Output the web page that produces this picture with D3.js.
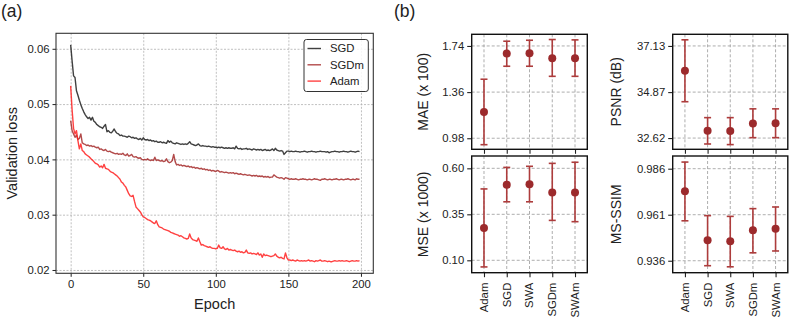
<!DOCTYPE html>
<html>
<head>
<meta charset="utf-8">
<script src="https://cdn.jsdelivr.net/npm/d3@7"></script>
<style>
  body { margin: 0; background: #fff; }
  svg { font-family: "Liberation Sans", Arial, sans-serif; }
</style>
</head>
<body>
<svg id="fig" width="789" height="321"></svg>
<script>
// panel (a): validation loss per epoch
const sgdLoss = [
  0.0607, 0.0578, 0.0551, 0.0548, 0.0524, 0.0516, 0.0507, 0.0499, 0.0492, 0.0486,
  0.0481, 0.0477, 0.0474, 0.0476, 0.0471, 0.0476, 0.0469, 0.0467, 0.0463, 0.0461,
  0.0459, 0.0458, 0.0456, 0.0460, 0.0463, 0.0450, 0.0452, 0.0449, 0.0448, 0.0451,
  0.0455, 0.0450, 0.0447, 0.0446, 0.0443, 0.0444, 0.0442, 0.0442, 0.0441, 0.0440,
  0.0442, 0.0441, 0.0439, 0.0440, 0.0438, 0.0439, 0.0437, 0.0436, 0.0438, 0.0435,
  0.0439, 0.0436, 0.0435, 0.0436, 0.0434, 0.0435, 0.0433, 0.0434, 0.0432, 0.0433,
  0.0431, 0.0431, 0.0432, 0.0430, 0.0431, 0.0430, 0.0429, 0.0434, 0.0431, 0.0433,
  0.0430, 0.0429, 0.0428, 0.0430, 0.0429, 0.0428, 0.0427, 0.0428, 0.0427, 0.0428,
  0.0427, 0.0429, 0.0432, 0.0428, 0.0427, 0.0426, 0.0425, 0.0426, 0.0428, 0.0425,
  0.0424, 0.0425, 0.0424, 0.0424, 0.0423, 0.0424, 0.0423, 0.0422, 0.0423, 0.0422,
  0.0422, 0.0421, 0.0422, 0.0421, 0.0422, 0.0421, 0.0420, 0.0421, 0.0420, 0.0421,
  0.0420, 0.0420, 0.0421, 0.0419, 0.0424, 0.0420, 0.0419, 0.0420, 0.0418, 0.0419,
  0.0419, 0.0420, 0.0418, 0.0419, 0.0418, 0.0417, 0.0419, 0.0418, 0.0417, 0.0418,
  0.0417, 0.0418, 0.0416, 0.0417, 0.0418, 0.0416, 0.0417, 0.0416, 0.0417, 0.0419,
  0.0416, 0.0420, 0.0417, 0.0416, 0.0415, 0.0416, 0.0415, 0.0409, 0.0412, 0.0415,
  0.0415, 0.0414, 0.0415, 0.0414, 0.0414, 0.0415, 0.0414, 0.0414, 0.0413, 0.0414,
  0.0414, 0.0415, 0.0414, 0.0413, 0.0414, 0.0414, 0.0415, 0.0414, 0.0414, 0.0413,
  0.0414, 0.0414, 0.0415, 0.0414, 0.0414, 0.0414, 0.0413, 0.0414, 0.0412, 0.0413,
  0.0414, 0.0414, 0.0415, 0.0414, 0.0414, 0.0413, 0.0414, 0.0414, 0.0415, 0.0414,
  0.0414, 0.0413, 0.0414, 0.0415, 0.0414, 0.0414, 0.0413, 0.0414, 0.0415, 0.0414
];
const sgdmLoss = [
  0.0470, 0.0452, 0.0446, 0.0440, 0.0444, 0.0436, 0.0438, 0.0446, 0.0430, 0.0428,
  0.0427, 0.0425, 0.0426, 0.0424, 0.0425, 0.0423, 0.0424, 0.0422, 0.0421, 0.0422,
  0.0418, 0.0419, 0.0417, 0.0416, 0.0418, 0.0415, 0.0414, 0.0415, 0.0413, 0.0412,
  0.0411, 0.0410, 0.0411, 0.0409, 0.0410, 0.0409, 0.0411, 0.0408, 0.0407, 0.0410,
  0.0406, 0.0407, 0.0409, 0.0405, 0.0404, 0.0405, 0.0403, 0.0402, 0.0403, 0.0400,
  0.0399, 0.0400, 0.0399, 0.0401, 0.0399, 0.0398, 0.0399, 0.0398, 0.0404, 0.0398,
  0.0399, 0.0398, 0.0397, 0.0398, 0.0396, 0.0397, 0.0401, 0.0396, 0.0394, 0.0395,
  0.0398, 0.0409, 0.0396, 0.0390, 0.0391, 0.0389, 0.0390, 0.0388, 0.0389, 0.0388,
  0.0387, 0.0388, 0.0386, 0.0387, 0.0385, 0.0386, 0.0384, 0.0385, 0.0384, 0.0383,
  0.0384, 0.0382, 0.0383, 0.0381, 0.0382, 0.0380, 0.0381, 0.0379, 0.0380, 0.0379,
  0.0378, 0.0380, 0.0379, 0.0377, 0.0378, 0.0377, 0.0376, 0.0377, 0.0376, 0.0375,
  0.0376, 0.0375, 0.0376, 0.0374, 0.0375, 0.0374, 0.0373, 0.0374, 0.0373, 0.0372,
  0.0373, 0.0372, 0.0371, 0.0372, 0.0371, 0.0370, 0.0371, 0.0370, 0.0371, 0.0369,
  0.0370, 0.0369, 0.0370, 0.0368, 0.0369, 0.0368, 0.0369, 0.0367, 0.0368, 0.0368,
  0.0372, 0.0370, 0.0368, 0.0367, 0.0366, 0.0367, 0.0366, 0.0364, 0.0367, 0.0366,
  0.0365, 0.0364, 0.0365, 0.0364, 0.0364, 0.0365, 0.0364, 0.0363, 0.0364, 0.0364,
  0.0365, 0.0364, 0.0364, 0.0363, 0.0364, 0.0364, 0.0363, 0.0364, 0.0365, 0.0364,
  0.0364, 0.0363, 0.0362, 0.0364, 0.0364, 0.0365, 0.0364, 0.0363, 0.0364, 0.0364,
  0.0363, 0.0364, 0.0364, 0.0365, 0.0364, 0.0363, 0.0364, 0.0364, 0.0363, 0.0364,
  0.0364, 0.0365, 0.0364, 0.0363, 0.0364, 0.0364, 0.0363, 0.0365, 0.0364, 0.0364
];
const adamLoss = [
  0.0533, 0.0489, 0.0456, 0.0446, 0.0452, 0.0434, 0.0419, 0.0428, 0.0416, 0.0414,
  0.0410, 0.0408, 0.0406, 0.0404, 0.0401, 0.0399, 0.0396, 0.0393, 0.0392, 0.0390,
  0.0386, 0.0388, 0.0385, 0.0391, 0.0384, 0.0383, 0.0382, 0.0379, 0.0377, 0.0376,
  0.0374, 0.0372, 0.0370, 0.0367, 0.0364, 0.0359, 0.0357, 0.0353, 0.0350, 0.0344,
  0.0338, 0.0334, 0.0333, 0.0335, 0.0324, 0.0314, 0.0311, 0.0308, 0.0305, 0.0300,
  0.0296, 0.0295, 0.0293, 0.0291, 0.0290, 0.0289, 0.0287, 0.0285, 0.0284, 0.0289,
  0.0282, 0.0278, 0.0277, 0.0276, 0.0274, 0.0273, 0.0272, 0.0271, 0.0270, 0.0268,
  0.0267, 0.0266, 0.0265, 0.0264, 0.0263, 0.0261, 0.0262, 0.0260, 0.0258, 0.0257,
  0.0256, 0.0257, 0.0265, 0.0258, 0.0255, 0.0254, 0.0253, 0.0252, 0.0258, 0.0251,
  0.0245, 0.0246, 0.0244, 0.0243, 0.0242, 0.0241, 0.0242, 0.0240, 0.0239, 0.0239,
  0.0238, 0.0239, 0.0245, 0.0240, 0.0239, 0.0242, 0.0238, 0.0237, 0.0239, 0.0236,
  0.0237, 0.0236, 0.0235, 0.0236, 0.0234, 0.0233, 0.0234, 0.0232, 0.0233, 0.0231,
  0.0232, 0.0236, 0.0231, 0.0230, 0.0231, 0.0229, 0.0230, 0.0229, 0.0228, 0.0231,
  0.0227, 0.0229, 0.0223, 0.0229, 0.0226, 0.0227, 0.0226, 0.0225, 0.0224, 0.0225,
  0.0226, 0.0229, 0.0225, 0.0223, 0.0222, 0.0223, 0.0221, 0.0220, 0.0231, 0.0222,
  0.0218, 0.0218, 0.0217, 0.0218, 0.0217, 0.0216, 0.0218, 0.0217, 0.0216, 0.0217,
  0.0216, 0.0217, 0.0216, 0.0217, 0.0218, 0.0216, 0.0217, 0.0216, 0.0215, 0.0217,
  0.0216, 0.0217, 0.0218, 0.0216, 0.0216, 0.0217, 0.0216, 0.0215, 0.0216, 0.0215,
  0.0215, 0.0216, 0.0217, 0.0216, 0.0216, 0.0217, 0.0216, 0.0217, 0.0216, 0.0216,
  0.0217, 0.0216, 0.0215, 0.0216, 0.0217, 0.0216, 0.0216, 0.0217, 0.0216, 0.0217
];
const lossTicksX = [0, 50, 100, 150, 200];
const lossTicksY = [0.02, 0.03, 0.04, 0.05, 0.06];

// panel (b): metrics per method, mean with lower / upper ends of error bar
const methods = ["Adam", "SGD", "SWA", "SGDm", "SWAm"];
const maeMean = [1.196, 1.677, 1.680, 1.639, 1.639];
const maeLow = [0.927, 1.573, 1.573, 1.490, 1.490];
const maeHigh = [1.466, 1.779, 1.787, 1.793, 1.790];
const mseMean = [0.276, 0.511, 0.513, 0.468, 0.468];
const mseLow = [0.064, 0.418, 0.418, 0.317, 0.310];
const mseHigh = [0.488, 0.605, 0.611, 0.627, 0.633];
const psnrMean = [35.92, 32.98, 32.96, 33.33, 33.34];
const psnrLow = [34.40, 32.33, 32.30, 32.64, 32.64];
const psnrHigh = [37.43, 33.62, 33.62, 34.05, 34.05];
const ssimMean = [0.9737, 0.9471, 0.9466, 0.9525, 0.9534];
const ssimLow = [0.9577, 0.9333, 0.9327, 0.9403, 0.9413];
const ssimHigh = [0.9896, 0.9605, 0.9601, 0.9643, 0.9652];
const maeTicks = ["0.98", "1.36", "1.74"];
const mseTicks = ["0.10", "0.35", "0.60"];
const psnrTicks = ["32.62", "34.87", "37.13"];
const ssimTicks = ["0.936", "0.961", "0.986"];

const svg = d3.select("#fig");
const gridColor = "#b0b0b0";
const barColor = "#ad3c3c";
const dotColor = "#9c2a2c";

// ---------- panel (a) ----------
const lossFrame = { left: 56, right: 373.3, top: 33.3, bottom: 273.3 };
const xLoss = d3.scaleLinear().domain([-10.1, 208.5]).range([lossFrame.left, lossFrame.right]);
const yLoss = d3.scaleLinear().domain([0.0194, 0.0628]).range([lossFrame.bottom, lossFrame.top]);

const gA = svg.append("g");

gA.append("g")
  .attr("transform", "translate(0," + lossFrame.bottom + ")")
  .call(d3.axisBottom(xLoss).tickValues(lossTicksX).tickSize(-(lossFrame.bottom - lossFrame.top)).tickFormat(""))
  .call((g) => g.select(".domain").remove())
  .call((g) => g.selectAll("line").attr("stroke", gridColor).attr("stroke-width", 0.8).attr("stroke-dasharray", "2,1.5"));

gA.append("g")
  .attr("transform", "translate(" + lossFrame.left + ",0)")
  .call(d3.axisLeft(yLoss).tickValues(lossTicksY).tickSize(-(lossFrame.right - lossFrame.left)).tickFormat(""))
  .call((g) => g.select(".domain").remove())
  .call((g) => g.selectAll("line").attr("stroke", gridColor).attr("stroke-width", 0.8).attr("stroke-dasharray", "2,1.5"));

const lossSeries = [
  { name: "SGD", values: sgdLoss, color: "#2b2b2b", opacity: 0.9 },
  { name: "SGDm", values: sgdmLoss, color: "#a52a2a", opacity: 0.85 },
  { name: "Adam", values: adamLoss, color: "#ff2020", opacity: 0.85 },
];

const line = d3.line()
  .x((d, i) => xLoss(i))
  .y((d) => yLoss(d));

gA.selectAll("path.loss")
  .data(lossSeries)
  .enter()
  .append("path")
  .attr("class", "loss")
  .attr("fill", "none")
  .attr("stroke", (d) => d.color)
  .attr("stroke-opacity", (d) => d.opacity)
  .attr("stroke-width", 1.4)
  .attr("stroke-linejoin", "round")
  .attr("d", (d) => line(d.values));

const xAxisA = gA.append("g")
  .attr("transform", "translate(0," + lossFrame.bottom + ")")
  .call(d3.axisBottom(xLoss).tickValues(lossTicksX).tickSize(3.5).tickPadding(3).tickFormat(d3.format("d")));
xAxisA.select(".domain").remove();
xAxisA.selectAll("text").attr("font-size", 11.3).attr("fill", "#222");
xAxisA.selectAll("line").attr("stroke", "#222");

const yAxisA = gA.append("g")
  .attr("transform", "translate(" + lossFrame.left + ",0)")
  .call(d3.axisLeft(yLoss).tickValues(lossTicksY).tickSize(3.5).tickPadding(3).tickFormat(d3.format(".2f")));
yAxisA.select(".domain").remove();
yAxisA.selectAll("text").attr("font-size", 11.3).attr("fill", "#222");
yAxisA.selectAll("line").attr("stroke", "#222");

gA.append("rect")
  .attr("x", lossFrame.left)
  .attr("y", lossFrame.top)
  .attr("width", lossFrame.right - lossFrame.left)
  .attr("height", lossFrame.bottom - lossFrame.top)
  .attr("fill", "none")
  .attr("stroke", "#333")
  .attr("stroke-width", 1.1);

gA.append("text")
  .attr("x", (lossFrame.left + lossFrame.right) / 2)
  .attr("y", 309)
  .attr("text-anchor", "middle")
  .attr("font-size", 14.5)
  .attr("fill", "#222")
  .text("Epoch");

gA.append("text")
  .attr("transform", "translate(17," + (lossFrame.top + lossFrame.bottom) / 2 + ") rotate(-90)")
  .attr("text-anchor", "middle")
  .attr("font-size", 14.5)
  .attr("fill", "#222")
  .text("Validation loss");

// legend
const legend = gA.append("g").attr("transform", "translate(304,39.5)");
legend.append("rect")
  .attr("width", 64.3)
  .attr("height", 52)
  .attr("rx", 2.5)
  .attr("fill", "#fff")
  .attr("fill-opacity", 0.85)
  .attr("stroke", "#333")
  .attr("stroke-width", 1);

const legendItem = legend.selectAll("g.item")
  .data(lossSeries)
  .enter()
  .append("g")
  .attr("class", "item")
  .attr("transform", (d, i) => "translate(0," + (9 + i * 16.3) + ")");

legendItem.append("line")
  .attr("x1", 3.5)
  .attr("x2", 17)
  .attr("stroke", (d) => d.color)
  .attr("stroke-opacity", (d) => d.opacity)
  .attr("stroke-width", 1.4);

legendItem.append("text")
  .attr("x", 26)
  .attr("dy", "0.35em")
  .attr("font-size", 11.3)
  .attr("fill", "#222")
  .text((d) => d.name);

svg.append("text")
  .attr("x", 1)
  .attr("y", 16.5)
  .attr("font-size", 17.5)
  .attr("fill", "#222")
  .text("(a)");

// ---------- panel (b) ----------
svg.append("text")
  .attr("x", 394)
  .attr("y", 16.5)
  .attr("font-size", 17.5)
  .attr("fill", "#222")
  .text("(b)");

const panels = [
  { label: "MAE (x 100)", mean: maeMean, low: maeLow, high: maeHigh, ticks: maeTicks,
    domain: [0.889, 1.836], left: 471.7, right: 587.3, top: 34.3, bottom: 149.3, labelX: 423, showX: false },
  { label: "MSE (x 1000)", mean: mseMean, low: mseLow, high: mseHigh, ticks: mseTicks,
    domain: [0.0326, 0.667], left: 471.7, right: 587.3, top: 156, bottom: 272.7, labelX: 423, showX: true },
  { label: "PSNR (dB)", mean: psnrMean, low: psnrLow, high: psnrHigh, ticks: psnrTicks,
    domain: [32.07, 37.70], left: 672.7, right: 787.8, top: 34.3, bottom: 149.3, labelX: 616, showX: false },
  { label: "MS-SSIM", mean: ssimMean, low: ssimLow, high: ssimHigh, ticks: ssimTicks,
    domain: [0.9295, 0.9929], left: 672.7, right: 787.8, top: 156, bottom: 272.7, labelX: 616, showX: true },
];

panels.forEach((p) => {
  const g = svg.append("g");
  const x = d3.scaleLinear().domain([-0.54, 4.54]).range([p.left, p.right]);
  const y = d3.scaleLinear().domain(p.domain).range([p.bottom, p.top]);
  const tickNums = p.ticks.map(Number);
  const idx = d3.range(methods.length);

  g.append("g")
    .selectAll("line")
    .data(idx)
    .enter()
    .append("line")
    .attr("x1", (d) => x(d))
    .attr("x2", (d) => x(d))
    .attr("y1", p.top)
    .attr("y2", p.bottom)
    .attr("stroke", "#999")
    .attr("stroke-width", 0.8)
    .attr("stroke-dasharray", "3,2");

  g.append("g")
    .selectAll("line")
    .data(tickNums)
    .enter()
    .append("line")
    .attr("x1", p.left)
    .attr("x2", p.right)
    .attr("y1", (d) => y(d))
    .attr("y2", (d) => y(d))
    .attr("stroke", "#999")
    .attr("stroke-width", 0.8)
    .attr("stroke-dasharray", "3,2");

  const yAxis = g.append("g")
    .attr("transform", "translate(" + p.left + ",0)")
    .call(d3.axisLeft(y).tickValues(tickNums).tickSize(4.5).tickPadding(3).tickFormat((d, i) => p.ticks[i]));
  yAxis.select(".domain").remove();
  yAxis.selectAll("text").attr("font-size", 11.3).attr("fill", "#222");
  yAxis.selectAll("line").attr("stroke", "#222").attr("stroke-width", 1.1);

  const xAxis = g.append("g")
    .attr("transform", "translate(0," + p.bottom + ")")
    .call(d3.axisBottom(x).tickValues(idx).tickSize(4.5).tickFormat(""));
  xAxis.select(".domain").remove();
  xAxis.selectAll("line").attr("stroke", "#222").attr("stroke-width", 1.1);

  if (p.showX) {
    g.append("g")
      .selectAll("text")
      .data(methods)
      .enter()
      .append("text")
      .attr("transform", (d, i) => "translate(" + x(i) + "," + (p.bottom + 10) + ") rotate(-90)")
      .attr("text-anchor", "end")
      .attr("dy", "0.35em")
      .attr("font-size", 11.3)
      .attr("fill", "#222")
      .text((d) => d);
  }

  // error bars
  g.append("g")
    .selectAll("line")
    .data(idx)
    .enter()
    .append("line")
    .attr("x1", (i) => x(i))
    .attr("x2", (i) => x(i))
    .attr("y1", (i) => y(p.low[i]))
    .attr("y2", (i) => y(p.high[i]))
    .attr("stroke", barColor)
    .attr("stroke-width", 1.6);

  ["low", "high"].forEach((k) => {
    g.append("g")
      .selectAll("line")
      .data(idx)
      .enter()
      .append("line")
      .attr("x1", (i) => x(i) - 3.5)
      .attr("x2", (i) => x(i) + 3.5)
      .attr("y1", (i) => y(p[k][i]))
      .attr("y2", (i) => y(p[k][i]))
      .attr("stroke", barColor)
      .attr("stroke-width", 1.6);
  });

  g.append("g")
    .selectAll("circle")
    .data(idx)
    .enter()
    .append("circle")
    .attr("cx", (i) => x(i))
    .attr("cy", (i) => y(p.mean[i]))
    .attr("r", 4)
    .attr("fill", dotColor);

  g.append("rect")
    .attr("x", p.left)
    .attr("y", p.top)
    .attr("width", p.right - p.left)
    .attr("height", p.bottom - p.top)
    .attr("fill", "none")
    .attr("stroke", "#111")
    .attr("stroke-width", 1.4);

  g.append("text")
    .attr("transform", "translate(" + p.labelX + "," + (p.top + p.bottom) / 2 + ") rotate(-90)")
    .attr("text-anchor", "middle")
    .attr("dy", "0.35em")
    .attr("font-size", 14)
    .attr("fill", "#222")
    .text(p.label);
});
</script>
</body>
</html>
